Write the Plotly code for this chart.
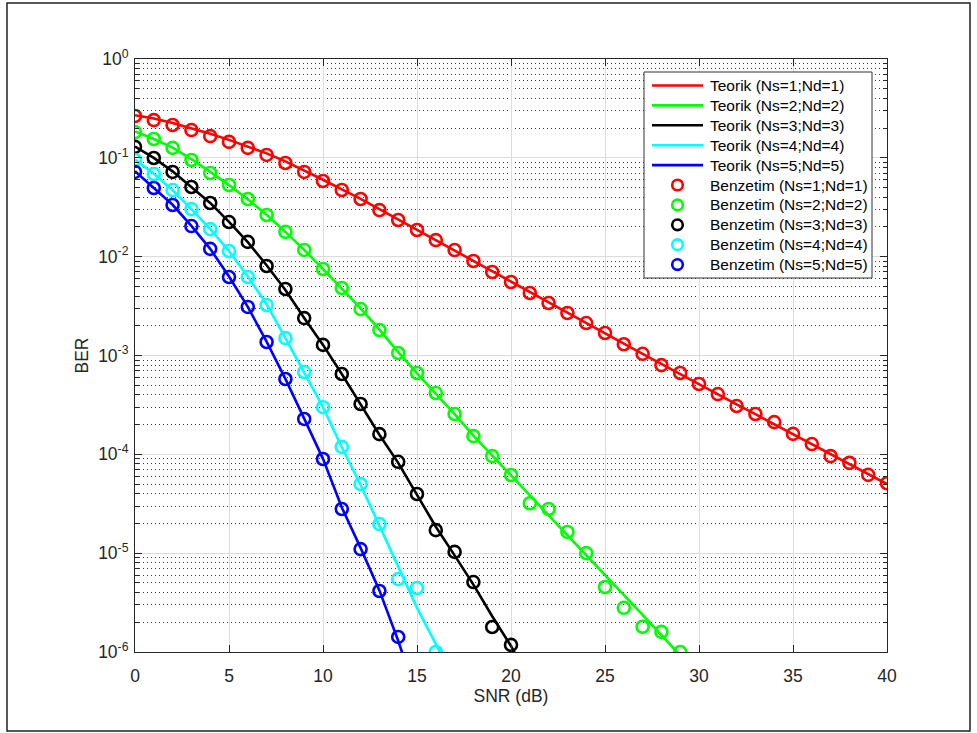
import plotly.graph_objects as go

# SNR axes (dB)
snr_red = list(range(0, 41))
snr_green = list(range(0, 30))
snr_black = list(range(0, 21))
snr_cyan = list(range(0, 17))
snr_blue = list(range(0, 15))

snr_red_th = list(range(0, 41))
snr_green_th = list(range(0, 31))
snr_black_th = list(range(0, 22))
snr_cyan_th = list(range(0, 18))
snr_blue_th = list(range(0, 16))

# Theoretical BER curves
ber_th_1 = [0.27, 0.25, 0.225, 0.2, 0.175, 0.152, 0.131, 0.111, 0.092, 0.075,
            0.06, 0.048, 0.0385, 0.0302, 0.0237, 0.0187, 0.0147, 0.0116, 0.0091, 0.0071,
            0.0056, 0.0044, 0.00345, 0.0027, 0.00213, 0.00168, 0.00132, 0.00104, 0.00082, 0.00065,
            0.00051, 0.000405, 0.00032, 0.000255, 0.000202, 0.00016, 0.000127, 0.0001, 0.0000795, 0.000063,
            0.00005]
ber_th_2 = [0.185, 0.155, 0.127, 0.097, 0.072, 0.053, 0.038, 0.0265, 0.0178, 0.0117,
            0.0075, 0.0048, 0.003, 0.00183, 0.00108, 0.00066, 0.000415, 0.000255, 0.000155, 0.0000975,
            0.0000615, 0.000039, 0.0000243, 0.0000153, 0.0000096, 0.000006, 0.0000038, 0.00000237, 0.00000148, 0.00000092,
            0.00000058]
ber_th_3 = [0.13, 0.1, 0.073, 0.051, 0.035, 0.0225, 0.014, 0.0082, 0.0046, 0.0024,
            0.00128, 0.00065, 0.00032, 0.000158, 0.000082, 0.000039, 0.0000185, 0.0000095, 0.0000048, 0.0000023,
            0.00000115, 0.0000005]
ber_th_4 = [0.096, 0.069, 0.047, 0.0303, 0.019, 0.0114, 0.0063, 0.0033, 0.0015, 0.00068,
            0.0003, 0.000118, 0.000049, 0.000019, 0.0000072, 0.0000028, 0.0000012, 0.0000005]
ber_th_5 = [0.073, 0.05, 0.0335, 0.0205, 0.012, 0.0063, 0.0031, 0.00138, 0.00058, 0.00023,
            0.00009, 0.000029, 0.0000113, 0.0000042, 0.0000013, 0.00000035]

# Simulated BER
ber_sim_1 = [0.265, 0.241, 0.215, 0.191, 0.166, 0.145, 0.126, 0.107, 0.0887, 0.072,
             0.0583, 0.0473, 0.0383, 0.0296, 0.0235, 0.0186, 0.0147, 0.01166, 0.00904, 0.0070,
             0.00554, 0.00429, 0.0034, 0.00269, 0.00213, 0.00169, 0.0013, 0.00104, 0.0008, 0.000665,
             0.000515, 0.000407, 0.000308, 0.000256, 0.000212, 0.000161, 0.000127, 0.000096, 0.000082, 0.000062,
             0.000051]
ber_sim_2 = [0.182, 0.155, 0.126, 0.095, 0.0703, 0.0531, 0.0383, 0.0264, 0.0178, 0.0117,
             0.0075, 0.00482, 0.00295, 0.00181, 0.00106, 0.000665, 0.000417, 0.000256, 0.000153, 0.000096,
             0.0000618, 0.000032, 0.000028, 0.0000164, 0.00001, 0.00000455, 0.0000028, 0.0000018, 0.0000016, 0.000001]
ber_sim_3 = [0.129, 0.0996, 0.072, 0.0507, 0.0349, 0.0224, 0.0141, 0.00805, 0.00471, 0.00239,
             0.00128, 0.00065, 0.000323, 0.00016, 0.000084, 0.0000397, 0.0000171, 0.0000103, 0.0000051, 0.00000179,
             0.00000118]
ber_sim_4 = [0.095, 0.0686, 0.0472, 0.0303, 0.019, 0.0114, 0.00622, 0.00324, 0.0015, 0.00068,
             0.0003, 0.000119, 0.00005, 0.0000197, 0.00000547, 0.00000444, 0.000001]
ber_sim_5 = [0.072, 0.0495, 0.0333, 0.0204, 0.012, 0.00622, 0.0031, 0.00137, 0.000578, 0.000228,
             0.0000897, 0.000028, 0.000011, 0.00000414, 0.00000142]

th_names = ["Teorik (Ns=1;Nd=1)", "Teorik (Ns=2;Nd=2)", "Teorik (Ns=3;Nd=3)",
            "Teorik (Ns=4;Nd=4)", "Teorik (Ns=5;Nd=5)"]
sim_names = ["Benzetim (Ns=1;Nd=1)", "Benzetim (Ns=2;Nd=2)", "Benzetim (Ns=3;Nd=3)",
             "Benzetim (Ns=4;Nd=4)", "Benzetim (Ns=5;Nd=5)"]
colors = ["#ff0000", "#00ff00", "#000000", "#00ffff", "#0000ff"]

y_tickvals = [1e-6, 1e-5, 1e-4, 1e-3, 1e-2, 1e-1, 1]
y_ticktext = ["10<sup>-6</sup>", "10<sup>-5</sup>", "10<sup>-4</sup>", "10<sup>-3</sup>",
              "10<sup>-2</sup>", "10<sup>-1</sup>", "10<sup>0</sup>"]

th_x = [snr_red_th, snr_green_th, snr_black_th, snr_cyan_th, snr_blue_th]
th_y = [ber_th_1, ber_th_2, ber_th_3, ber_th_4, ber_th_5]
sim_x = [snr_red, snr_green, snr_black, snr_cyan, snr_blue]
sim_y = [ber_sim_1, ber_sim_2, ber_sim_3, ber_sim_4, ber_sim_5]

LINE_W = 2.6
fig = go.Figure()
for x, y, name, c in zip(th_x, th_y, th_names, colors):
    fig.add_trace(go.Scatter(x=x, y=y, mode="lines", name=name,
                             line=dict(color=c, width=LINE_W)))
for x, y, name, c in zip(sim_x, sim_y, sim_names, colors):
    fig.add_trace(go.Scatter(x=x, y=y, mode="markers", name=name,
                             marker=dict(symbol="circle-open", size=12, color=c,
                                         line=dict(color=c, width=LINE_W))))

font_family = "Liberation Sans"
axis_color = "#262626"

# plot area in pixels
L, R, T, B = 135, 887, 59, 652
W, H = R - L, B - T


def px(xp):
    return (xp - L) / W


def py(yp):
    return (B - yp) / H


# Figure frame and legend box drawn in paper coordinates
shapes = [
    dict(type="rect", xref="paper", yref="paper",
         x0=px(7), x1=px(970), y0=py(731), y1=py(3),
         line=dict(color="#222222", width=1.5), fillcolor="rgba(0,0,0,0)"),
    dict(type="rect", xref="paper", yref="paper",
         x0=px(644), x1=px(872), y0=py(278), y1=py(72),
         line=dict(color="#333333", width=1), fillcolor="white", layer="above"),
]
annotations = []
row0, row_step = 85.5, 19.9
legend_labels = th_names + sim_names
for i, label in enumerate(legend_labels):
    yc = row0 + i * row_step
    c = colors[i % 5]
    if i < 5:
        shapes.append(dict(type="line", xref="paper", yref="paper",
                           x0=px(652), x1=px(703), y0=py(yc), y1=py(yc),
                           line=dict(color=c, width=LINE_W), layer="above"))
    else:
        r = 5.3
        shapes.append(dict(type="circle", xref="paper", yref="paper",
                           x0=px(677.5 - r), x1=px(677.5 + r), y0=py(yc + r), y1=py(yc - r),
                           line=dict(color=c, width=LINE_W), fillcolor="rgba(0,0,0,0)",
                           layer="above"))
    annotations.append(dict(text=label, xref="paper", yref="paper",
                            x=px(708), y=py(yc), xanchor="left", yanchor="middle",
                            showarrow=False,
                            font=dict(family=font_family, size=15.5, color="#000000")))

fig.update_layout(
    width=977, height=733,
    margin=dict(l=L, r=977 - R, t=T, b=733 - B),
    paper_bgcolor="white",
    plot_bgcolor="rgba(0,0,0,0)",
    font=dict(family=font_family, size=15, color=axis_color),
    showlegend=False,
    shapes=shapes,
    annotations=annotations,
)

fig.update_xaxes(
    range=[0, 40], dtick=5, tick0=0,
    showline=True, linecolor=axis_color, linewidth=1, mirror="ticks",
    ticks="inside", ticklen=7, tickcolor=axis_color,
    showgrid=True, gridcolor="#dcdcdc", gridwidth=1,
    zeroline=False,
    ticklabelstandoff=8,
    tickfont=dict(family=font_family, size=17.5, color=axis_color),
    title=dict(text="SNR (dB)", font=dict(family=font_family, size=17.5, color=axis_color), standoff=2),
)

fig.update_yaxes(
    type="log", range=[-6, 0],
    tickvals=y_tickvals, ticktext=y_ticktext,
    showline=True, linecolor=axis_color, linewidth=1, mirror="ticks",
    ticks="inside", ticklen=7, tickcolor=axis_color,
    showgrid=True, gridcolor="#dcdcdc", gridwidth=1,
    minor=dict(dtick="D1", ticks="inside", ticklen=4, tickcolor=axis_color,
               showgrid=True, gridcolor="#3a3a3a", gridwidth=1, griddash="1px,3px"),
    zeroline=False,
    ticklabelstandoff=2,
    tickfont=dict(family=font_family, size=17.5, color=axis_color),
    title=dict(text="BER", font=dict(family=font_family, size=17.5, color=axis_color), standoff=5),
)

fig.write_html("out.html")
